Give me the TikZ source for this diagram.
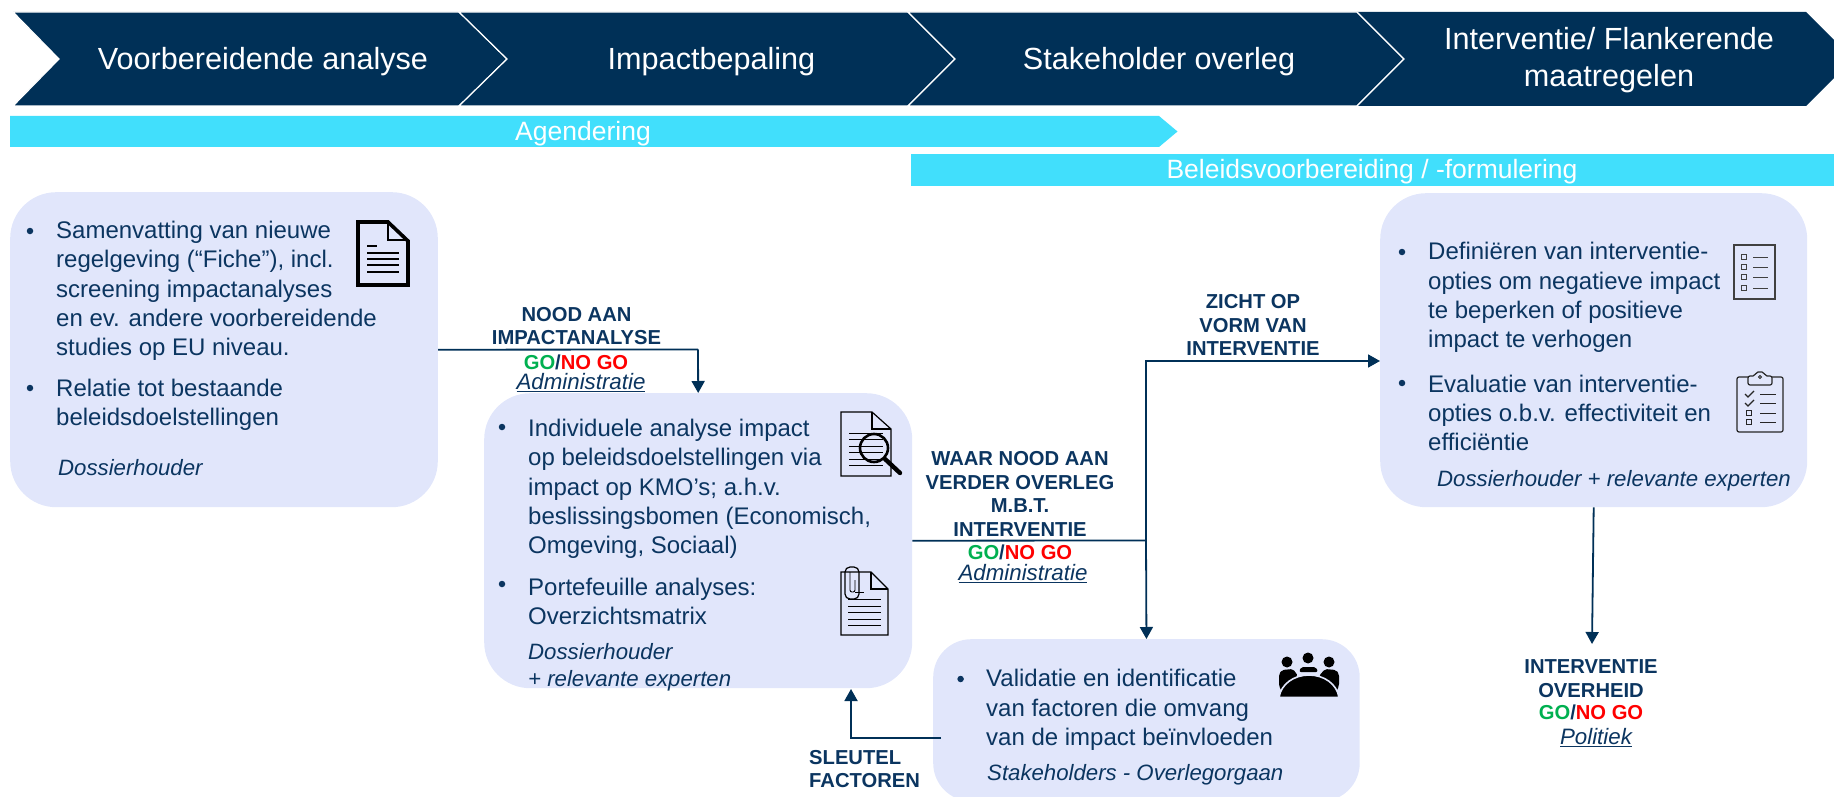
\documentclass[tikz,border=0pt]{standalone}
\usepackage{fontspec}
\setmainfont{Liberation Sans}
\usetikzlibrary{arrows.meta}
\definecolor{navy}{HTML}{003057}
\definecolor{ink}{HTML}{0B3560}
\definecolor{cyanbar}{HTML}{41DFFC}
\definecolor{panel}{HTML}{E1E6FB}
\definecolor{gogreen}{HTML}{00B050}
\definecolor{nored}{HTML}{FF0000}
\newcommand{\gonogo}{\textcolor{gogreen}{GO}/\textcolor{nored}{NO GO}}
\tikzset{
  x=1pt,y=-1pt,
  chev/.style={fill=navy,draw=white,line width=1.2pt,line join=miter},
  chevtext/.style={text=white,font=\fontsize{30.6}{37}\selectfont,align=center,inner sep=0pt},
  barshape/.style={fill=cyanbar,draw=none},
  bartext/.style={text=white,font=\fontsize{26.5}{28}\selectfont,inner sep=0pt},
  panelbox/.style={fill=panel,draw=none,rounded corners=46pt,inner sep=0pt,anchor=north west},
  body/.style={text=ink,font=\fontsize{24}{29.3}\selectfont,align=left,anchor=west,inner sep=0pt},
  who/.style={text=ink,font=\fontsize{22.2}{27}\selectfont\itshape,align=left,anchor=west,inner sep=0pt},
  dotmark/.style={circle,fill=ink,minimum size=6.5pt,inner sep=0pt},
  decision/.style={text=ink,font=\fontsize{20.2}{23.8}\selectfont\bfseries,align=center,inner sep=0pt},
  actor/.style={text=ink,font=\fontsize{22.3}{24}\selectfont\itshape,inner sep=0pt},
  link/.style={draw=navy,line width=1.8pt},
  linkarrow/.style={link,-{Triangle[length=12pt,width=13pt]}},
  iconk/.style={draw=black,fill=none,line width=1.2pt},
  iconh/.style={draw=black,fill=none,line width=3.6pt,line join=miter},
}
\begin{document}
\begin{tikzpicture}
\useasboundingbox (0,0) rectangle (1834,797);
\clip (0,0) rectangle (1834,797);

% chevrons
\path[chev] (13,12) -- (459,12) -- (507,59) -- (459,106) -- (13,106) -- (59,59) -- cycle;
\path[chev] (459,12) -- (908,12) -- (955,59) -- (908,106) -- (459,106) -- (507,59) -- cycle;
\path[chev] (908,12) -- (1357,12) -- (1404,59) -- (1357,106) -- (908,106) -- (955,59) -- cycle;
\path[fill=navy] (1357,12) -- (1806,12) -- (1853,59) -- (1806,106) -- (1357,106) -- (1404,59) -- cycle;
\path[draw=white,line width=1.2pt] (1357,12) -- (1404,59) -- (1357,106);
\node[chevtext] (c1) at (263,62) {Voorbereidende analyse};
\node[chevtext] (c2) at (711.5,62) {Impactbepaling};
\node[chevtext] (c3) at (1159,62) {Stakeholder overleg};
\node[chevtext] (c4) at (1609,60) {Interventie/ Flankerende\\maatregelen};

% bars
\path[barshape] (10,116) -- (1159,116) -- (1177.5,131.5) -- (1159,147) -- (10,147) -- cycle;
\path[barshape] (911,154) rectangle (1834,186);
\node[bartext] (b1) at (583,133.5) {Agendering};
\node[bartext] (b2) at (1372,172) {Beleidsvoorbereiding / -formulering};

% panels
\node[panelbox,minimum width=427.6pt,minimum height=315pt] (box1) at (10,192) {};
\node[panelbox,minimum width=428pt,minimum height=295pt] (box2) at (484,393) {};
\node[panelbox,rounded corners=38pt,minimum width=426.5pt,minimum height=162pt] (box3) at (933,639) {};
\node[panelbox,minimum width=427pt,minimum height=314pt] (box4) at (1380,193) {};

% box 1 text
\node[dotmark] (d11) at (30,231) {};
\node[body] (t11) at (56,291) {Samenvatting van nieuwe\\regelgeving (“Fiche”), incl.\\screening impactanalyses\\en ev. andere voorbereidende\\studies op EU niveau.};
\node[dotmark] (d12) at (30,388) {};
\node[body] (t12) at (56,404.5) {Relatie tot bestaande\\beleidsdoelstellingen};
\node[who] (w1) at (58,467.5) {Dossierhouder};

% box 2 text
\node[dotmark] (d21) at (502,427) {};
\node[body] (t21) at (528,489) {Individuele analyse impact\\op beleidsdoelstellingen via\\impact op KMO’s; a.h.v.\\beslissingsbomen (Economisch,\\Omgeving, Sociaal)};
\node[dotmark] (d22) at (502,584) {};
\node[body] (t22) at (528,601.5) {Portefeuille analyses:\\Overzichtsmatrix};
\node[who] (w2) at (528,667) {Dossierhouder\\+ relevante experten};

% box 3 text
\node[dotmark] (d31) at (960.6,679) {};
\node[body] (t31) at (986,710) {Validatie en identificatie\\van factoren die omvang\\van de impact beïnvloeden};
\node[who] (w3) at (987,775) {Stakeholders - Overlegorgaan};

% box 4 text
\node[dotmark] (d41) at (1402,252) {};
\node[body] (t41) at (1428,297.5) {Definiëren van interventie-\\opties om negatieve impact\\te beperken of positieve\\impact te verhogen};
\node[dotmark] (d42) at (1402,383) {};
\node[body] (t42) at (1428,413) {Evaluatie van interventie-\\opties o.b.v. effectiviteit en\\efficiëntie};
\node[who] (w4) at (1437,481) {Dossierhouder + relevante experten};

% connectors
\coordinate (j1) at (1146,540.5);
\coordinate (j2) at (1146,361);
\coordinate (out3) at (941,738);
\coordinate (up3) at (851,738);
\coordinate (in2) at (851,689);
\coordinate (out1) at (698,349.5);
\coordinate (end4) at (1592,644);
\draw[link] (box1.east) -- (out1);
\draw[linkarrow] (out1) -- (box2.north);
\draw[link] (box2.east) -- (j1);
\draw[linkarrow] (j1) -- (box3.north);
\draw[linkarrow] (j1) -- (j2) -- (j2 -| box4.west);
\draw[linkarrow] (out3) -- (up3) -- (in2);
\draw[linkarrow] (box4.south) -- (end4);

% decision labels
\node[decision] (l1) at (576.5,326) {NOOD AAN\\IMPACTANALYSE};
\node[decision] (l1g) at (576,362.5) {\gonogo};
\node[actor] (l1a) at (581,383) {\underline{Administratie}};
\node[decision] (l2) at (1020,494) {WAAR NOOD AAN\\VERDER OVERLEG\\M.B.T.\\INTERVENTIE};
\node[decision] (l2g) at (1020,552.5) {\gonogo};
\node[actor] (l2a) at (1023,574) {\underline{Administratie}};
\node[decision] (l3) at (1253,325) {ZICHT OP\\VORM VAN\\INTERVENTIE};
\node[decision,align=left,anchor=west] (l4) at (809,769) {SLEUTEL\\FACTOREN};
\node[decision] (l5) at (1591,679) {INTERVENTIE\\OVERHEID};
\node[decision] (l5g) at (1591,712.5) {\gonogo};
\node[actor] (l5a) at (1596,738) {\underline{Politiek}};

% icon: document
\path[iconh] (358,222) -- (388,222) -- (408,241) -- (408,285) -- (358,285) -- cycle;
\path[iconh,line width=2.4pt] (388,222) -- (388,240) -- (408,240);
\foreach \yy in {253,259,265,272}{\path[draw=black,line width=2.6pt] (367,\yy) -- (399,\yy);}
\path[draw=black,line width=2.6pt] (367,246) -- (377,246);

% icon: document with magnifier
\path[iconk] (841,412) -- (872,412) -- (891,429) -- (891,476) -- (841,476) -- cycle;
\path[iconk] (872,412) -- (872,429) -- (891,429);
\foreach \yy in {433,439,446,452,459,465}{\path[draw=black,line width=0.9pt] (849,\yy) -- (883,\yy);}
\path[draw=black,line width=2.6pt] (874,448) circle (14);
\path[draw=black,line width=4.4pt,line cap=round] (885,459) -- (900,473);

% icon: document with paperclip
\path[iconk] (841,572) -- (871,572) -- (888,589) -- (888,635) -- (841,635) -- cycle;
\path[iconk] (871,572) -- (871,589) -- (888,589);
\foreach \yy in {599,606,612,619,625}{\path[draw=black,line width=0.9pt] (848,\yy) -- (881,\yy);}
\path[iconk,rounded corners=5pt] (845,567) rectangle (859,599);
\path[draw=black,line width=0.9pt,rounded corners=2pt] (850,572) -- (850,592) -- (855,592) -- (855,580);
\path[draw=black,line width=0.9pt] (855,592) -- (864,592);

% icon: checklist
\path[draw=black!75,line width=1.2pt] (1734,245) rectangle (1775,299);
\foreach \yy in {257,267,277,288}{
  \path[draw=black!75,line width=1pt] (1741.5,\yy-2.3) rectangle (1746.5,\yy+2.3);
  \path[draw=black!75,line width=1pt] (1753,\yy) -- (1768,\yy);}

% icon: clipboard
\path[draw=black!85,line width=1.2pt,rounded corners=2pt] (1748,377) -- (1737,377) -- (1737,432) -- (1783,432) -- (1783,377) -- (1772,377);
\path[draw=black!85,line width=1.2pt,rounded corners=2pt] (1748,385) -- (1748,376) -- (1755,376) -- (1756,372) -- (1764,372) -- (1765,376) -- (1772,376) -- (1772,385) -- cycle;
\path[draw=black!85,line width=0.9pt] (1760,377) circle (1.5);
\foreach \yy in {394,403}{
  \path[draw=black!85,line width=1.1pt] (1745,\yy) -- (1748,\yy+3) -- (1754,\yy-3);
  \path[draw=black!85,line width=1pt] (1760,\yy) -- (1776,\yy);}
\foreach \yy in {413,422}{
  \path[draw=black!85,line width=1pt] (1746.5,\yy-2.3) rectangle (1751.5,\yy+2.3);
  \path[draw=black!85,line width=1pt] (1760,\yy) -- (1776,\yy);}

% icon: people at a table
\foreach \xx/\yy in {1287/662,1308/658,1329/662}{\path[fill=black] (\xx,\yy) circle (5.5);}
\path[fill=black,rounded corners=2pt] (1279,686) -- (1279,674) -- (1282,670) -- (1293,669) -- (1298,676) -- (1282,692) -- cycle;
\path[fill=black,rounded corners=2pt] (1339,686) -- (1339,674) -- (1336,670) -- (1325,669) -- (1319,676) -- (1336,692) -- cycle;
\path[fill=black,rounded corners=2pt] (1299,672) -- (1301,667) -- (1316,667) -- (1318,672) -- cycle;
\path[fill=black,draw=panel,line width=1.6pt] (1279,697.5) .. controls (1281,684) and (1294,675) .. (1309,675) .. controls (1324,675) and (1337,684) .. (1339,697.5) -- cycle;
\end{tikzpicture}
\end{document}
